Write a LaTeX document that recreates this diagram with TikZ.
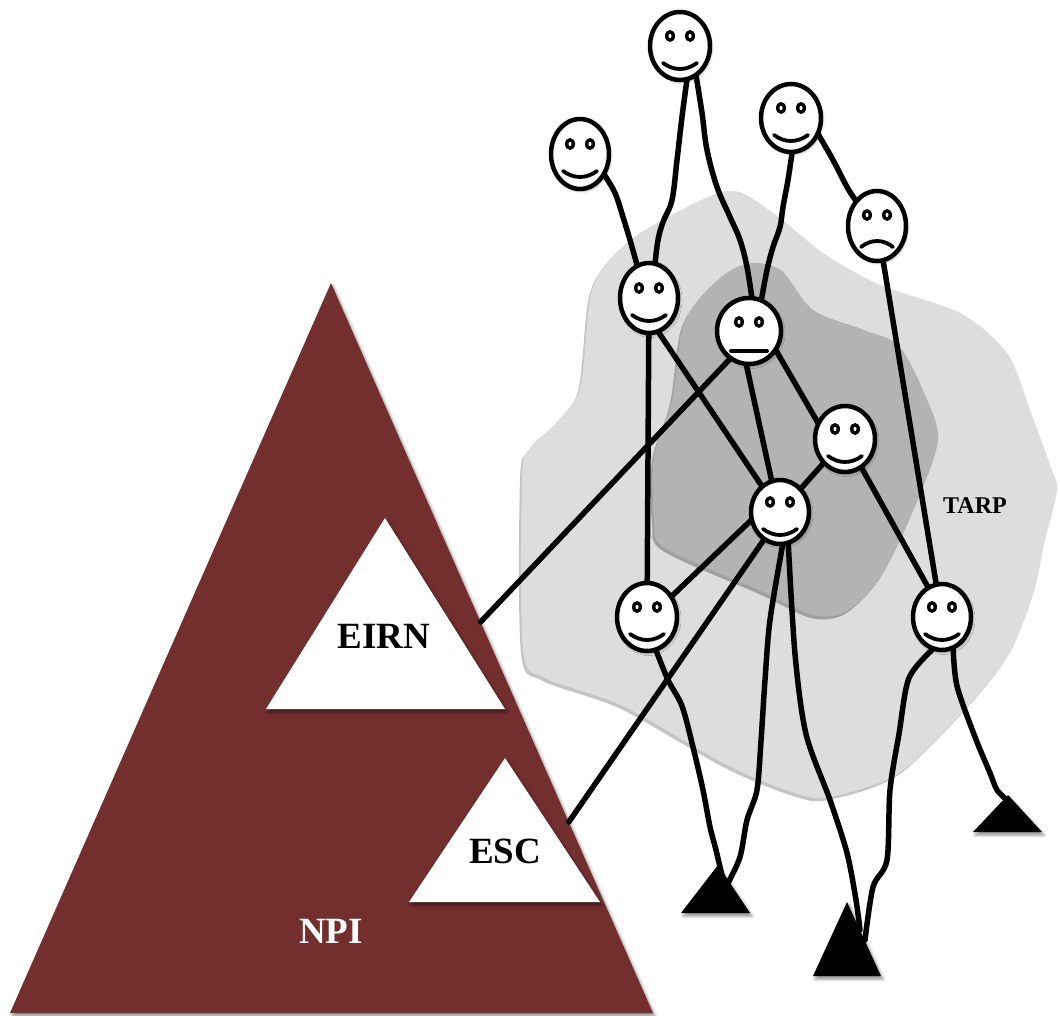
\documentclass[tikz,border=0pt]{standalone}
\usepackage{fontspec}
\setmainfont{Liberation Serif}
\usetikzlibrary{shapes.geometric,shadows.blur,calc}
\definecolor{npired}{RGB}{115,47,46}
\definecolor{tarplight}{RGB}{221,221,221}
\definecolor{tarplightedge}{RGB}{196,196,196}
\definecolor{tarpdark}{RGB}{179,179,179}
\definecolor{tarpdarkedge}{RGB}{160,160,160}

\tikzset{
  headline/.style={draw=black, fill=white, line width=4.5pt,
    blur shadow={shadow xshift=1.5pt, shadow yshift=-2pt, shadow blur radius=2.5pt, shadow opacity=40}},
  anchorshape/.style={ellipse, inner sep=0pt, outer sep=0pt},
  link/.style={draw=black, line width=5.5pt, line cap=round, line join=round},
  feature/.style={line width=3.8pt, line cap=round},
  biglabel/.style={font=\fontsize{37}{40}\selectfont\bfseries, anchor=base, inner sep=0pt},
  softshadow/.style={blur shadow={shadow xshift=2pt, shadow yshift=-3pt, shadow blur radius=3pt, shadow opacity=45}},
}

% outlines of the two TARP regions
\newcommand\tarpouter{(727,191) (773,213) (823,253) (880,285) (960,313) (1007,353) (1030,410)
    (1050,465) (1057,490) (1045,540) (1033,595) (1009,654) (968,706) (899,773)
    (830,797) (795,793) (727,765) (623,706) (545,678) (523,650) (522,477)
    (530,448) (556,423) (580,388) (590,299) (605,265) (645,230)}
\newcommand\tarpinner{(754,263) (782,271) (813,310) (864,330) (899,346) (925,395) (938,440)
    (916,504) (882,575) (847,611) (813,615) (761,591) (665,548) (654,520)
    (654,457) (672,401) (682,330) (699,299) (728,272)}

% a person: an (undrawn) elliptic node that the ties attach to
\newcommand\placeperson[5]{\path node[anchorshape, minimum width=#4pt, minimum height=#5pt] (#1) at (#2,#3) {};}
% the visible head of a person, radii #2 and #3
\newcommand\drawhead[3]{\path[headline] (#1.center) ellipse (#2 and #3);}
% eyes of a face, drawn relative to its centre
\newcommand\eyepair[1]{%
  \fill[black] (-10,#1) ellipse (5 and 6) (10,#1) ellipse (5 and 6);
  \fill[white] (-10,#1) ellipse (1.5 and 2.2) (10,#1) ellipse (1.5 and 2.2);}
\newcommand\happyface[1]{\begin{scope}[shift={(#1.center)}]
  \eyepair{-10}
  \draw[feature] (-17,17) .. controls (-6,25) and (6,25) .. (17,17);
\end{scope}}
\newcommand\flatface[1]{\begin{scope}[shift={(#1.center)}]
  \eyepair{-9}
  \draw[feature] (-18,20) -- (18,20);
\end{scope}}
\newcommand\sadface[1]{\begin{scope}[shift={(#1.center)}]
  \eyepair{-11}
  \draw[feature] (-16,21) .. controls (-6,13) and (6,13) .. (16,21);
\end{scope}}

\begin{document}
\begin{tikzpicture}[x=1pt,y=-1pt]
\useasboundingbox (0,0) rectangle (1060,1016);

% TARP regions, each with a soft edge below
\fill[tarplightedge, shift={(-2,3)}] plot[smooth cycle, tension=0.5] coordinates {\tarpouter};
\fill[tarplight] plot[smooth cycle, tension=0.5] coordinates {\tarpouter};
\fill[tarpdarkedge, shift={(-2,3)}] plot[smooth cycle, tension=0.5] coordinates {\tarpinner};
\fill[tarpdark] plot[smooth cycle, tension=0.5] coordinates {\tarpinner};
\node[font=\fontsize{24}{28}\selectfont\bfseries, anchor=base, inner sep=0pt] (tarp) at (975,513) {TARP};

% NPI pyramid with its two inner triangles
\coordinate (npiTop) at (331,283);
\coordinate (npiR) at (653,1013);
\coordinate (npiL) at (10,1013);
\fill[npired, softshadow] (npiTop) -- (npiR) -- (npiL) -- cycle;
\fill[white, softshadow] (385,518) -- (505,709) -- (266,709) -- cycle;
\fill[white, softshadow] (505,758) -- (600,902) -- (409,902) -- cycle;
\node[biglabel] (eirn) at (384,648) {EIRN};
\node[biglabel] (esc) at (505,863) {ESC};
\node[biglabel, text=white] (npi) at (331,943) {NPI};
\coordinate (eirnPort) at ($(npiTop)!0.4644!(npiR)$);
\coordinate (escPort) at ($(npiTop)!0.7384!(npiR)$);

% people
\placeperson{A}{680}{46}{60}{68}
\placeperson{B}{580}{154}{58}{70}
\placeperson{C}{791}{118}{60}{68}
\placeperson{D}{877}{226}{58}{70}
\placeperson{E}{649}{298}{58}{70}
\placeperson{F}{749}{331}{64}{66}
\placeperson{G}{845}{439}{60}{66}
\placeperson{H}{780}{512}{58}{64}
\placeperson{I}{647}{617}{60}{68}
\placeperson{J}{942}{617}{58}{66}

% ties between people, the pyramid and the feet
\coordinate (foot1) at (718,865);
\coordinate (foot2) at (847,902);
\coordinate (foot3) at (1008,795);
\draw[link] plot[smooth, tension=0.6] coordinates {(A.-78) (682,117) (677,160) (672,200) (663,222) (658,240) (E.80)};
\draw[link] plot[smooth, tension=0.6] coordinates {(A.-61) (702,113) (707,150) (717,187) (730,217) (740,240) (747,267) (F.85)};
\draw[link] plot[smooth, tension=0.6] coordinates {(B.-40) (615,193) (623,217) (630,240) (E.110)};
\draw[link] plot[smooth, tension=0.6] coordinates {(C.-88) (788,180) (783,207) (780,227) (773,247) (767,270) (F.68)};
\draw[link] plot[smooth, tension=0.6] coordinates {(C.-30) (833,160) (847,187) (D.130)};
\draw[link] (D.-80) -- (J.100);
\draw[link] (E) -- (I);
\draw[link] (E.-75) -- (H.125);
\draw[link] (F.-95) -- (H.105);
\draw[link] (F.-35) -- (G.150);
\draw[link] (F.-124) -- (eirnPort);
\draw[link] (G) -- (H);
\draw[link] (G.-60) -- (J.115);
\draw[link] (H.-165) -- (I.40);
\draw[link] (H.-120) -- (escPort);
% legs
\draw[link] plot[smooth, tension=0.5] coordinates {(I.-75) (668,680) (682,706) (693,747) (703,790) (710,827) (716,850) ($(foot1)+(5,15)$)};
\draw[link] plot[smooth, tension=0.5] coordinates {(H.-85) (770,620) (765,680) (761,741) (757,790) (747,820) (740,857) ($(foot1)+(10,18)$)};
\draw[link] plot[smooth, tension=0.5] coordinates {(H.-75) (795,654) (806,734) (830,800) (847,853) (856,900) ($(foot2)+(13,28)$)};
\draw[link] plot[smooth, tension=0.5] coordinates {(J.-105) (909,678) (899,734) (890,790) (887,860) (873,887) ($(foot2)+(18,38)$)};
\draw[link] plot[smooth, tension=0.5] coordinates {(J.-70) (957,686) (975,737) (990,773) (997,790) ($(foot3)+(-1,5)$)};

% heads and faces
\drawhead{A}{30}{34} \happyface{A}
\drawhead{B}{29}{35} \happyface{B}
\drawhead{C}{30}{34} \happyface{C}
\drawhead{D}{29}{35} \sadface{D}
\drawhead{E}{29}{35} \happyface{E}
\drawhead{F}{32}{33} \flatface{F}
\drawhead{G}{30}{33} \happyface{G}
\drawhead{H}{29}{32} \happyface{H}
\drawhead{I}{30}{34} \happyface{I}
\drawhead{J}{29}{33} \happyface{J}

% feet
\fill[black, softshadow] (foot1) -- ++(32,48) -- ++(-69,0) -- cycle;
\fill[black, softshadow] (foot2) -- ++(34,74) -- ++(-68,0) -- cycle;
\fill[black, softshadow] (foot3) -- ++(34,37) -- ++(-69,0) -- cycle;
\end{tikzpicture}
\end{document}
